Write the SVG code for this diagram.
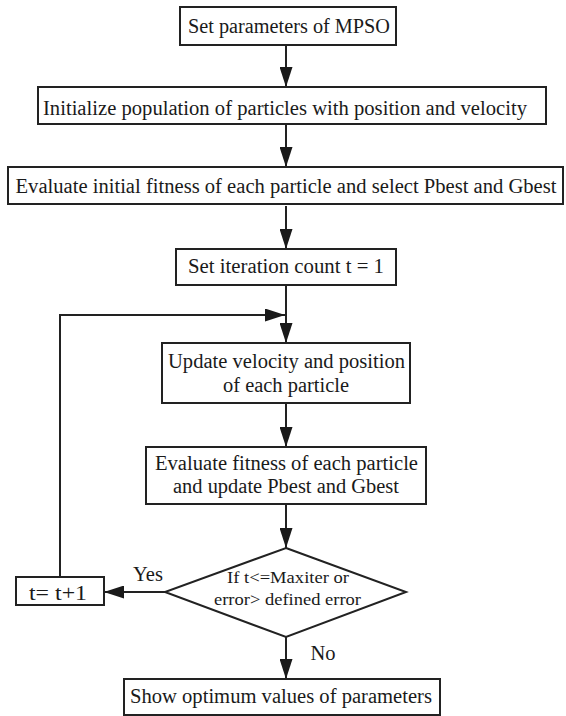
<svg xmlns="http://www.w3.org/2000/svg" width="566" height="716" viewBox="0 0 566 716">
<style>
.box{fill:#fff;stroke:#222;stroke-width:2}
.t{font-family:"Liberation Serif","Times New Roman",serif;font-size:20.5px;fill:#1a1a1a;text-anchor:middle}
.s{font-size:17px}
.c{fill:none;stroke:#222;stroke-width:2}
</style>
<defs>
<marker id="ah" markerUnits="userSpaceOnUse" markerWidth="20" markerHeight="13" refX="20" refY="6.5" orient="auto">
<path d="M0,0 L20,6.5 L0,13 z" fill="#1a1a1a"/>
</marker>
</defs>
<rect width="566" height="716" fill="#fff"/>
<g id="connectors">
<path class="c" d="M286,45 V87" marker-end="url(#ah)"/>
<path class="c" d="M286,124 V167" marker-end="url(#ah)"/>
<path class="c" d="M286,206 V249" marker-end="url(#ah)"/>
<path class="c" d="M286,285 V343" marker-end="url(#ah)"/>
<path class="c" d="M60,577 V315 H285" marker-end="url(#ah)"/>
<path class="c" d="M286,403 V447" marker-end="url(#ah)"/>
<path class="c" d="M286,504 V548" marker-end="url(#ah)"/>
<path class="c" d="M165,592 H104" marker-end="url(#ah)"/>
<path class="c" d="M286,637 V679" marker-end="url(#ah)"/>
</g>
<g id="n1"><rect class="box" x="180" y="7" width="216" height="38"/><text class="t" x="289" y="33" textLength="202" lengthAdjust="spacingAndGlyphs">Set parameters of MPSO</text></g>
<g id="n2"><rect class="box" x="38" y="87" width="508" height="37"/><text class="t" x="285" y="115" textLength="484" lengthAdjust="spacingAndGlyphs">Initialize population of particles with position and velocity</text></g>
<g id="n3"><rect class="box" x="8" y="167" width="555" height="37"/><text class="t" x="286" y="193" textLength="541" lengthAdjust="spacingAndGlyphs">Evaluate initial fitness of each particle and select Pbest and Gbest</text></g>
<g id="n4"><rect class="box" x="176" y="249" width="220" height="36"/><text class="t" x="286" y="273" textLength="196" lengthAdjust="spacingAndGlyphs">Set iteration count  t = 1</text></g>
<g id="n5"><rect class="box" x="162" y="343" width="248" height="60"/><text class="t" x="286.5" y="368" textLength="237" lengthAdjust="spacingAndGlyphs">Update velocity and position</text><text class="t" x="286" y="392" textLength="126" lengthAdjust="spacingAndGlyphs">of each particle</text></g>
<g id="n6"><rect class="box" x="146" y="447" width="280" height="57"/><text class="t" x="286.5" y="470" textLength="263" lengthAdjust="spacingAndGlyphs">Evaluate fitness of each particle</text><text class="t" x="286" y="493" textLength="226" lengthAdjust="spacingAndGlyphs">and update Pbest and Gbest</text></g>
<g id="n7"><polygon class="box" points="286,548 406,592 286,637 165,592"/><text class="t s" x="288" y="583" textLength="122" lengthAdjust="spacingAndGlyphs">If t&lt;=Maxiter or</text><text class="t s" x="287.5" y="605" textLength="147" lengthAdjust="spacingAndGlyphs">error&gt; defined error</text></g>
<g id="n8"><rect class="box" x="16" y="577" width="88" height="28"/><text class="t" x="58" y="600" font-size="21" textLength="58" lengthAdjust="spacingAndGlyphs">t= t+1</text></g>
<g id="n9"><rect class="box" x="124" y="679" width="316" height="36"/><text class="t" x="281" y="703" textLength="302" lengthAdjust="spacingAndGlyphs">Show optimum values of parameters</text></g>
<text class="t" x="148" y="581">Yes</text>
<text class="t" x="323" y="660">No</text>
</svg>
